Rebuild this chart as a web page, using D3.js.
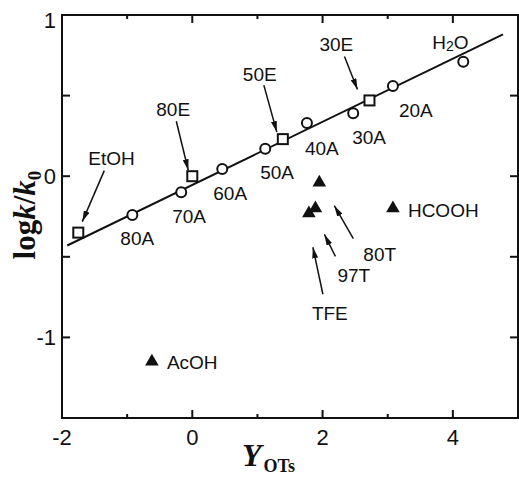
<!DOCTYPE html>
<html>
<head>
<meta charset="utf-8">
<script src="https://cdn.jsdelivr.net/npm/d3@7"></script>
<style>
    body { margin: 0; background: #fff; }
    svg text { font-family: "Liberation Sans", Arial, sans-serif; fill: #111; }
    .serif { font-family: "Liberation Serif", "Times New Roman", serif; font-weight: bold; }
</style>
</head>
<body>
<div id="chart"></div>
<script>
// open circles (aqueous acetone + water)
const circleNames = ["80A", "70A", "60A", "50A", "40A", "30A", "20A", "H2O"];
const circleX = [-0.92, -0.17, 0.46, 1.12, 1.76, 2.47, 3.08, 4.16];
const circleY = [-0.24, -0.10, 0.045, 0.17, 0.33, 0.39, 0.56, 0.71];

// open squares (ethanol series)
const squareNames = ["EtOH", "80E", "50E", "30E"];
const squareX = [-1.75, 0.00, 1.39, 2.72];
const squareY = [-0.35, 0.00, 0.23, 0.47];

// filled triangles (deviating solvents)
const triangleNames = ["TFE", "97T", "80T", "HCOOH", "AcOH"];
const triangleX = [1.79, 1.89, 1.95, 3.08, -0.62];
const triangleY = [-0.23, -0.20, -0.04, -0.20, -1.15];

// regression line end points
const fitX = [-1.92, 4.77];
const fitY = [-0.43, 0.88];

// axis ticks
const xMajor = [-2, 0, 2, 4];
const xMinor = [-1, 1, 3];
const yMajor = [-1, 0, 1];
const yMinor = [-0.5, 0.5];

// label placement, pixels relative to the point: [dx, dy] of text,
// plus optional arrow [tailDx, tailDy, tipDx, tipDy]
const labelPos = {
    "EtOH": [10, -68, 26, -62, 4, -11],
    "80E": [-36, -60, -16, -55, -4, -6],
    "50E": [-40, -58, -19, -54, -6, -7],
    "30E": [-50, -49, -25, -44, -12, -11],
    "H2O": [-31, -13],
    "80A": [-12, 30],
    "70A": [-9, 31],
    "60A": [-9, 31],
    "50A": [-5, 30],
    "40A": [-2, 32],
    "30A": [-1, 31],
    "20A": [6, 31],
    "HCOOH": [15, 9],
    "AcOH": [15, 7],
    "80T": [44, 78, 34, 56, 15, 23],
    "97T": [22, 74, 20, 48, 9, 26],
    "TFE": [3, 107, 14, 81, 4, 34]
};

const w = 519, h = 478;
const padL = 62, padR = 518, padT = 15, padB = 418;

// scales
const xScale = d3.scaleLinear().domain([-2, 5]).range([padL, padR]);
const yScale = d3.scaleLinear().domain([-1.5, 1]).range([padB, padT]);

const svg = d3.select("#chart").append("svg")
    .attr("width", w)
    .attr("height", h);

svg.append("defs").append("marker")
    .attr("id", "arrow")
    .attr("viewBox", "0 -3 11 6")
    .attr("refX", 11).attr("refY", 0)
    .attr("markerUnits", "userSpaceOnUse")
    .attr("markerWidth", 11).attr("markerHeight", 6)
    .attr("orient", "auto")
    .append("path")
    .attr("d", "M0,-3L11,0L0,3Z")
    .attr("fill", "#111");

// frame
svg.append("rect")
    .attr("x", padL).attr("y", padT)
    .attr("width", padR - padL).attr("height", padB - padT)
    .attr("fill", "none").attr("stroke", "#111").attr("stroke-width", 2);

// inward ticks on all four sides
function ticks(vals, len) {
    vals.forEach(function(v) {
        let x = xScale(v);
        svg.append("line").attr("x1", x).attr("x2", x).attr("y1", padB).attr("y2", padB - len);
        svg.append("line").attr("x1", x).attr("x2", x).attr("y1", padT).attr("y2", padT + len);
    });
}
ticks(xMajor, 8);
ticks(xMinor, 4);
yMajor.concat(yMinor).forEach(function(v) {
    let y = yScale(v);
    svg.append("line").attr("x1", padL).attr("x2", padL + 8).attr("y1", y).attr("y2", y);
    svg.append("line").attr("x1", padR).attr("x2", padR - 8).attr("y1", y).attr("y2", y);
});
svg.selectAll("line").attr("stroke", "#111").attr("stroke-width", 2);

// tick labels
svg.selectAll(".xlab").data(xMajor).enter().append("text")
    .attr("x", function(d) { return xScale(d); })
    .attr("y", padB + 27)
    .attr("text-anchor", "middle")
    .style("font-size", "22px")
    .text(function(d) { return d; });

svg.selectAll(".ylab").data(yMajor).enter().append("text")
    .attr("x", padL - 6)
    .attr("y", function(d) { return yScale(d) + 8 + (d == 1 ? 5 : 0); })
    .attr("text-anchor", "end")
    .style("font-size", "22px")
    .text(function(d) { return d; });

// axis titles
let xt = svg.append("text").attr("class", "serif").attr("x", 242).attr("y", 466);
xt.append("tspan").style("font-size", "32px").style("font-style", "italic").text("Y");
xt.append("tspan").style("font-size", "18px").attr("dy", 6).attr("dx", 2).text("OTs");

let yt = svg.append("text").attr("class", "serif")
    .attr("transform", "translate(35,215) rotate(-90)")
    .attr("text-anchor", "middle")
    .style("font-size", "31px");
yt.append("tspan").text("log");
yt.append("tspan").style("font-style", "italic").text("k");
yt.append("tspan").text("/");
yt.append("tspan").style("font-style", "italic").text("k");
yt.append("tspan").style("font-size", "19px").attr("dy", 6).text("0");

// regression line
svg.append("line")
    .attr("x1", xScale(fitX[0])).attr("y1", yScale(fitY[0]))
    .attr("x2", xScale(fitX[1])).attr("y2", yScale(fitY[1]))
    .attr("stroke", "#111").attr("stroke-width", 2);

// markers
svg.selectAll(".circ").data(circleX).enter().append("circle")
    .attr("cx", function(d) { return xScale(d); })
    .attr("cy", function(d, i) { return yScale(circleY[i]); })
    .attr("r", 5)
    .attr("fill", "#fff").attr("stroke", "#111").attr("stroke-width", 2);

svg.selectAll(".sq").data(squareX).enter().append("rect")
    .attr("x", function(d) { return xScale(d) - 5; })
    .attr("y", function(d, i) { return yScale(squareY[i]) - 5; })
    .attr("width", 10).attr("height", 10)
    .attr("fill", "#fff").attr("stroke", "#111").attr("stroke-width", 2);

let tri = d3.symbol().type(d3.symbolTriangle).size(80);
svg.selectAll(".tri").data(triangleX).enter().append("path")
    .attr("d", tri)
    .attr("transform", function(d, i) {
        return "translate(" + xScale(d) + "," + yScale(triangleY[i]) + ")";
    })
    .attr("fill", "#111");

// point labels and arrows
function label(name, px, py) {
    let p = labelPos[name];
    let t = svg.append("text")
        .attr("x", px + p[0]).attr("y", py + p[1])
        .style("font-size", "19px");
    if (name == "H2O") {
        t.append("tspan").text("H");
        t.append("tspan").style("font-size", "14px").attr("dy", 2).text("2");
        t.append("tspan").attr("dy", -2).text("O");
    } else {
        t.text(name);
    }
    if (p.length > 2) {
        svg.append("line")
            .attr("x1", px + p[2]).attr("y1", py + p[3])
            .attr("x2", px + p[4]).attr("y2", py + p[5])
            .attr("stroke", "#111").attr("stroke-width", 1.5)
            .attr("marker-end", "url(#arrow)");
    }
}
circleNames.forEach(function(n, i) { label(n, xScale(circleX[i]), yScale(circleY[i])); });
squareNames.forEach(function(n, i) { label(n, xScale(squareX[i]), yScale(squareY[i])); });
triangleNames.forEach(function(n, i) { label(n, xScale(triangleX[i]), yScale(triangleY[i])); });
</script>
</body>
</html>
